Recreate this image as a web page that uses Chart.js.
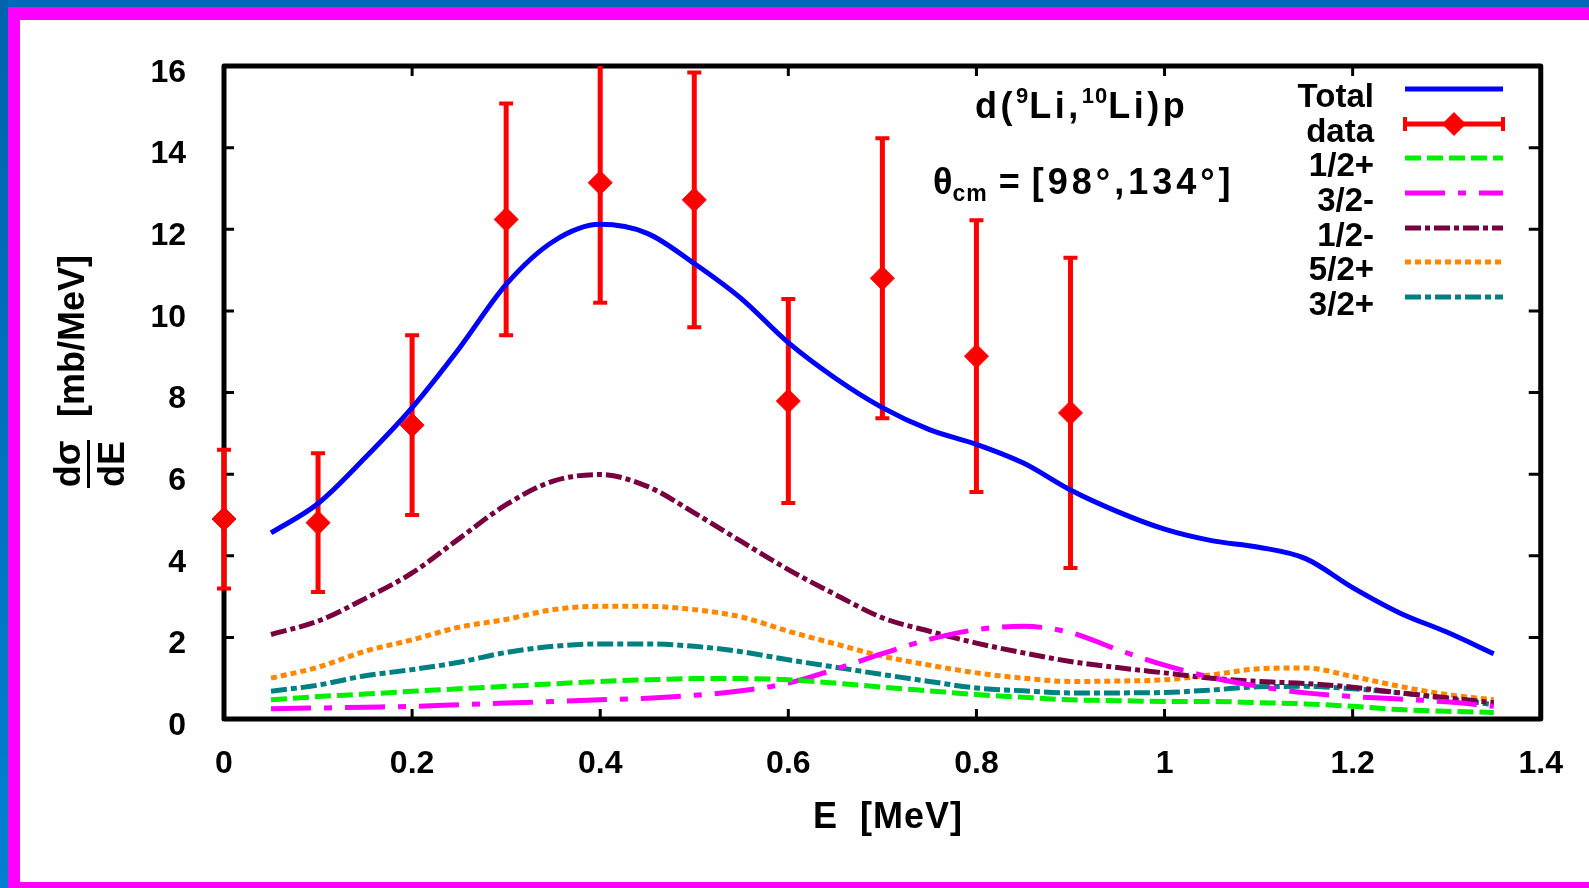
<!DOCTYPE html>
<html>
<head>
<meta charset="utf-8">
<title>d(9Li,10Li)p</title>
<script src="https://cdn.jsdelivr.net/npm/chart.js@4.4.0/dist/chart.umd.min.js"></script>
<style>
  html, body { margin: 0; padding: 0; background: #fff; overflow: hidden; }
  .band { position: absolute; }
  canvas { position: absolute; left: 0; top: 0; }
</style>
</head>
<body>
<div class="band" style="left:0;top:0;width:1589px;height:7px;background:#0068b4"></div>
<div class="band" style="left:0;top:0;width:8px;height:888px;background:linear-gradient(#0062ac,#0080d2)"></div>
<div class="band" style="left:8px;top:7px;width:1581px;height:13px;background:#ff00ff"></div>
<div class="band" style="left:8px;top:7px;width:12px;height:881px;background:#ff00ff"></div>
<div class="band" style="left:8px;top:882px;width:1581px;height:6px;background:#ff00ff"></div>
<canvas id="crossSectionChart" width="1589" height="888"></canvas>
<script>
// Energie (MeV) pro teoreticke krivky
const energyGrid = [0.05, 0.10, 0.15, 0.20, 0.25, 0.30, 0.35, 0.40, 0.45, 0.50, 0.55, 0.60, 0.65, 0.70,
                    0.75, 0.80, 0.85, 0.90, 0.95, 1.00, 1.05, 1.10, 1.15, 1.20, 1.25, 1.30, 1.35];

const totalCurve = [4.56, 5.28, 6.40, 7.63, 9.08, 10.65, 11.70, 12.12, 11.90, 11.16, 10.30, 9.22, 8.35, 7.63,
                    7.09, 6.73, 6.27, 5.61, 5.08, 4.65, 4.37, 4.21, 3.93, 3.22, 2.60, 2.13, 1.60];
const s12plus  = [0.47, 0.55, 0.61, 0.68, 0.74, 0.80, 0.86, 0.92, 0.96, 0.99, 0.99, 0.96, 0.88, 0.78,
                  0.69, 0.60, 0.53, 0.47, 0.45, 0.43, 0.43, 0.40, 0.37, 0.31, 0.23, 0.19, 0.16];
const p32minus = [0.25, 0.27, 0.29, 0.31, 0.35, 0.39, 0.43, 0.47, 0.51, 0.58, 0.69, 0.88, 1.22, 1.60,
                  1.95, 2.19, 2.27, 2.12, 1.70, 1.32, 1.02, 0.80, 0.64, 0.55, 0.49, 0.42, 0.31];
const p12minus = [2.07, 2.40, 2.95, 3.58, 4.42, 5.25, 5.83, 5.99, 5.70, 5.05, 4.35, 3.66, 3.05, 2.48,
                  2.15, 1.86, 1.62, 1.41, 1.26, 1.13, 1.00, 0.92, 0.87, 0.78, 0.64, 0.52, 0.40];
const d52plus  = [1.00, 1.27, 1.66, 1.94, 2.25, 2.44, 2.68, 2.76, 2.76, 2.68, 2.50, 2.15, 1.84, 1.54,
                  1.32, 1.13, 1.00, 0.92, 0.93, 0.96, 1.08, 1.23, 1.25, 1.04, 0.80, 0.60, 0.47];
const d32plus  = [0.68, 0.83, 1.06, 1.21, 1.39, 1.63, 1.78, 1.84, 1.84, 1.78, 1.65, 1.45, 1.27, 1.09,
                  0.92, 0.76, 0.69, 0.64, 0.64, 0.65, 0.71, 0.79, 0.80, 0.74, 0.64, 0.50, 0.35];

// Experimentalni data s chybami
const dataEnergy = [0, 0.1, 0.2, 0.3, 0.4, 0.5, 0.6, 0.7, 0.8, 0.9];
const dataValues = [4.90, 4.81, 7.20, 12.24, 13.14, 12.72, 7.79, 10.80, 8.89, 7.50];
const dataErrors = [1.70, 1.70, 2.20, 2.84, 2.94, 3.12, 2.50, 3.43, 3.33, 3.80];

const FONT = "'Liberation Sans', Arial, sans-serif";

function toPoints(xs, ys) {
    return xs.map((x, i) => ({ x: x, y: ys[i] }));
}

function curve(label, values, color, dash) {
    return {
        label: label,
        data: toPoints(energyGrid, values),
        borderColor: color,
        backgroundColor: color,
        borderWidth: 5,
        borderDash: dash,
        pointRadius: 0,
        fill: false,
        cubicInterpolationMode: 'monotone'
    };
}

// Ramecek grafu a tiky smerem dovnitr
const framePlugin = {
    id: 'frame',
    beforeDatasetsDraw(chart) {
        const { ctx, chartArea: a, scales } = chart;
        ctx.save();
        ctx.strokeStyle = '#000';
        ctx.lineWidth = 3;
        scales.x.ticks.forEach(t => {
            const px = scales.x.getPixelForValue(t.value);
            ctx.beginPath();
            ctx.moveTo(px, a.bottom); ctx.lineTo(px, a.bottom - 10);
            ctx.moveTo(px, a.top); ctx.lineTo(px, a.top + 10);
            ctx.stroke();
        });
        scales.y.ticks.forEach(t => {
            const py = scales.y.getPixelForValue(t.value);
            ctx.beginPath();
            ctx.moveTo(a.left, py); ctx.lineTo(a.left + 10, py);
            ctx.moveTo(a.right, py); ctx.lineTo(a.right - 12, py);
            ctx.stroke();
        });
        ctx.lineWidth = 5;
        ctx.lineJoin = 'round';
        ctx.strokeRect(a.left, a.top, a.right - a.left, a.bottom - a.top);
        ctx.restore();
    }
};

// Chybove useky pro experimentalni body
const errorBarPlugin = {
    id: 'errorBars',
    beforeDatasetDraw(chart, args) {
        if (args.index !== 1) return;
        const { ctx, scales } = chart;
        const yMax = scales.y.max;
        ctx.save();
        ctx.strokeStyle = '#ff0000';
        dataEnergy.forEach((e, i) => {
            const px = scales.x.getPixelForValue(e);
            const hi = Math.min(dataValues[i] + dataErrors[i], yMax);
            const lo = dataValues[i] - dataErrors[i];
            const pHi = scales.y.getPixelForValue(hi);
            const pLo = scales.y.getPixelForValue(lo);
            ctx.lineWidth = 5;
            ctx.beginPath();
            ctx.moveTo(px, pHi); ctx.lineTo(px, pLo);
            ctx.stroke();
            ctx.lineWidth = 4;
            ctx.beginPath();
            if (hi < yMax) { ctx.moveTo(px - 7, pHi); ctx.lineTo(px + 7, pHi); }
            ctx.moveTo(px - 7, pLo); ctx.lineTo(px + 7, pLo);
            ctx.stroke();
        });
        ctx.restore();
    }
};

function drawParts(ctx, parts, x, y) {
    parts.forEach(p => {
        ctx.font = 'bold ' + p.size + 'px ' + FONT;
        ctx.letterSpacing = (p.ls || 0) + 'px';
        ctx.fillText(p.t, x, y + (p.dy || 0));
        x += ctx.measureText(p.t).width;
    });
    ctx.letterSpacing = '0px';
}

// Popisky os, anotace a legenda
const textPlugin = {
    id: 'texts',
    afterDraw(chart) {
        const ctx = chart.ctx;
        ctx.save();
        ctx.fillStyle = '#000';

        // osa x
        ctx.font = 'bold 36px ' + FONT;
        ctx.textAlign = 'center';
        ctx.textBaseline = 'middle';
        ctx.letterSpacing = '1px';
        ctx.fillText('E  [MeV]', 888, 818);
        ctx.letterSpacing = '0px';

        // osa y (zlomek d sigma / dE)
        ctx.save();
        ctx.translate(74, 336);
        ctx.rotate(-Math.PI / 2);
        ctx.fillText('[mb/MeV]', 0, 0);
        ctx.restore();
        ctx.save();
        ctx.translate(70, 464);
        ctx.rotate(-Math.PI / 2);
        ctx.fillText('d\u03c3', 0, 0);
        ctx.restore();
        ctx.save();
        ctx.translate(114, 464);
        ctx.rotate(-Math.PI / 2);
        ctx.fillText('dE', 0, 0);
        ctx.restore();
        ctx.fillRect(87, 440, 3, 48);

        // anotace
        ctx.textAlign = 'left';
        ctx.textBaseline = 'alphabetic';
        drawParts(ctx, [
            { t: 'd(', size: 36, ls: 3.5 },
            { t: '9', size: 22, dy: -15, ls: 1 },
            { t: 'Li,', size: 36, ls: 3.5 },
            { t: '10', size: 22, dy: -15, ls: 1 },
            { t: 'Li)p', size: 36, ls: 3.5 }
        ], 975, 118);
        drawParts(ctx, [
            { t: '\u03b8', size: 36 },
            { t: 'cm', size: 23, dy: 7, ls: 1 },
            { t: ' = ', size: 36, ls: 1 },
            { t: '[98\u00b0,134\u00b0]', size: 36, ls: 4 }
        ], 933, 194);

        // legenda
        const rows = [89, 124, 158, 193, 228, 262, 297];
        const x0 = 1405, x1 = 1503;
        chart.data.datasets.forEach((ds, i) => {
            const y = rows[i];
            ctx.font = 'bold 33px ' + FONT;
            ctx.textAlign = 'right';
            ctx.textBaseline = 'middle';
            ctx.fillStyle = '#000';
            ctx.fillText(ds.label, 1374, y + 9);
            ctx.strokeStyle = ds.borderColor;
            ctx.lineWidth = 5;
            ctx.setLineDash(ds.borderDash || []);
            ctx.beginPath();
            ctx.moveTo(x0, y); ctx.lineTo(x1, y);
            ctx.stroke();
            ctx.setLineDash([]);
            if (i === 1) {
                ctx.lineWidth = 4;
                ctx.beginPath();
                ctx.moveTo(x0, y - 7); ctx.lineTo(x0, y + 7);
                ctx.moveTo(x1, y - 7); ctx.lineTo(x1, y + 7);
                ctx.stroke();
                ctx.fillStyle = '#ff0000';
                ctx.beginPath();
                ctx.moveTo(1454, y - 12); ctx.lineTo(1466, y);
                ctx.lineTo(1454, y + 12); ctx.lineTo(1442, y);
                ctx.closePath();
                ctx.fill();
            }
        });
        ctx.restore();
    }
};

const tickFont = { family: FONT, size: 32, weight: 'bold' };

new Chart(document.getElementById('crossSectionChart').getContext('2d'), {
    type: 'line',
    data: {
        datasets: [
            curve('Total', totalCurve, '#0000ff', []),
            {
                label: 'data',
                data: toPoints(dataEnergy, dataValues),
                showLine: false,
                pointStyle: 'rectRot',
                pointRadius: 12,
                pointBorderWidth: 1,
                borderColor: '#ff0000',
                backgroundColor: '#ff0000',
                borderDash: [],
                clip: false
            },
            curve('1/2+', s12plus, '#00f000', [16, 6]),
            curve('3/2-', p32minus, '#ff00ff', [40, 13, 8, 13]),
            curve('1/2-', p12minus, '#780040', [16, 4, 5, 4]),
            curve('5/2+', d52plus, '#ff8800', [6, 4]),
            curve('3/2+', d32plus, '#008080', [16, 4, 6, 4])
        ]
    },
    options: {
        responsive: false,
        devicePixelRatio: 1,
        animation: false,
        layout: { padding: { left: 0, top: 66, right: 47, bottom: 0 } },
        plugins: { legend: { display: false }, tooltip: { enabled: false } },
        scales: {
            x: {
                type: 'linear',
                min: 0,
                max: 1.4,
                grid: { display: false, drawTicks: false },
                border: { display: false },
                ticks: {
                    stepSize: 0.2, font: tickFont, color: '#000', padding: 26, maxRotation: 0,
                    callback: v => String(Math.round(v * 10) / 10)
                },
                afterFit(scale) { scale.height = 169; }
            },
            y: {
                min: 0,
                max: 16,
                grid: { display: false, drawTicks: false },
                border: { display: false },
                ticks: { stepSize: 2, font: tickFont, color: '#000', padding: 38, labelOffset: 7 },
                afterFit(scale) { scale.width = 224; }
            }
        }
    },
    plugins: [framePlugin, errorBarPlugin, textPlugin]
});
</script>
</body>
</html>
